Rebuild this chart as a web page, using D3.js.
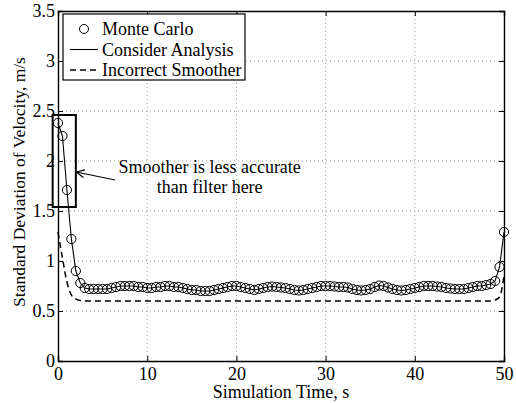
<!DOCTYPE html>
<html>
<head>
<meta charset="utf-8">
<script src="https://cdn.jsdelivr.net/npm/d3@7"></script>
<style>
  body { margin: 0; background: #fff; }
  svg { display: block; font-family: "Liberation Serif", "Times New Roman", serif; }
  .grid line { stroke: #999; stroke-dasharray: 1,3; stroke-width: 1; }
</style>
</head>
<body>
<svg id="chart"></svg>
<script>
'use strict';

// simulation time, s (Monte Carlo samples every 0.5 s)
var mcTime = [0,0.5,1,1.5,2,2.5,3,3.5,4,4.5,5,5.5,6,6.5,7,7.5,8,8.5,9,9.5,
    10,10.5,11,11.5,12,12.5,13,13.5,14,14.5,15,15.5,16,16.5,17,17.5,18,18.5,19,19.5,
    20,20.5,21,21.5,22,22.5,23,23.5,24,24.5,25,25.5,26,26.5,27,27.5,28,28.5,29,29.5,
    30,30.5,31,31.5,32,32.5,33,33.5,34,34.5,35,35.5,36,36.5,37,37.5,38,38.5,39,39.5,
    40,40.5,41,41.5,42,42.5,43,43.5,44,44.5,45,45.5,46,46.5,47,47.5,48,48.5,49,49.5,50];

var monteCarlo = [2.38,2.25,1.71,1.22,0.90,0.78,0.73,0.72,0.72,0.72,0.72,0.72,0.73,0.74,0.75,0.75,0.75,0.75,0.74,0.74,
    0.73,0.73,0.74,0.74,0.75,0.75,0.74,0.74,0.73,0.72,0.71,0.71,0.70,0.70,0.70,0.71,0.72,0.73,0.74,0.75,
    0.75,0.74,0.73,0.72,0.71,0.72,0.73,0.74,0.745,0.74,0.735,0.73,0.72,0.71,0.705,0.71,0.72,0.73,0.74,0.75,
    0.75,0.75,0.745,0.74,0.74,0.735,0.72,0.71,0.705,0.71,0.72,0.74,0.755,0.75,0.735,0.72,0.71,0.705,0.71,0.72,
    0.73,0.74,0.75,0.75,0.75,0.745,0.74,0.73,0.725,0.72,0.72,0.72,0.73,0.74,0.75,0.75,0.76,0.77,0.80,0.94,1.29];

// consider analysis follows the Monte Carlo result
var considerTime = mcTime;
var considerAnalysis = monteCarlo;

var smootherTime = [0,0.5,1,1.5,2,2.5,3,10,20,30,40,47,48,48.5,49,49.5,50];
var incorrectSmoother = [1.29,1.03,0.79,0.66,0.62,0.605,0.60,0.60,0.60,0.60,0.60,0.60,0.60,0.60,0.61,0.64,0.85];

var xTicks = [0,10,20,30,40,50];
var yTicks = [0,0.5,1,1.5,2,2.5,3,3.5];

var legendLabels = ['Monte Carlo','Consider Analysis','Incorrect Smoother'];
var noteLines = ['Smoother is less accurate','than filter here'];

var svgWidth = 516, svgHeight = 403,
    margin = { top: 11, right: 12, bottom: 42, left: 58 },
    width = svgWidth - margin.left - margin.right,
    height = svgHeight - margin.top - margin.bottom;

var svg = d3.select('#chart').attr('width', svgWidth).attr('height', svgHeight);
var g = svg.append('g').attr('transform', 'translate(' + margin.left + ',' + margin.top + ')');

var x = d3.scaleLinear().domain([0, 50]).range([0, width]);
var y = d3.scaleLinear().domain([0, 3.5]).range([height, 0]);

// grid
g.append('g').attr('class', 'grid')
    .selectAll('line').data(xTicks.slice(1, -1)).enter().append('line')
    .attr('x1', function(d) { return x(d); }).attr('x2', function(d) { return x(d); })
    .attr('y1', 0).attr('y2', height);
g.append('g').attr('class', 'grid')
    .selectAll('line').data(yTicks.slice(1, -1)).enter().append('line')
    .attr('y1', function(d) { return y(d); }).attr('y2', function(d) { return y(d); })
    .attr('x1', 0).attr('x2', width);

// axes, ticks inward on all sides
var fmt = function(d) { return d3.format('')(d); };
var xAxis = g.append('g').attr('transform', 'translate(0,' + height + ')')
    .call(d3.axisBottom(x).tickValues(xTicks).tickSize(-5).tickPadding(6).tickFormat(fmt));
var xAxisTop = g.append('g')
    .call(d3.axisTop(x).tickValues(xTicks).tickSize(-5).tickFormat(''));
var yAxis = g.append('g')
    .call(d3.axisLeft(y).tickValues(yTicks).tickSize(-5).tickPadding(3).tickFormat(fmt));
var yAxisRight = g.append('g').attr('transform', 'translate(' + width + ',0)')
    .call(d3.axisRight(y).tickValues(yTicks).tickSize(-5).tickFormat(''));

[xAxis, xAxisTop, yAxis, yAxisRight].forEach(function(a) {
    a.select('.domain').attr('stroke', '#000').attr('stroke-width', 1.4);
    a.selectAll('.tick line').attr('stroke', '#000');
    a.selectAll('text').attr('fill', '#000').style('font-size', '18px')
        .style('font-family', '"Liberation Serif", serif');
});

// axis labels
g.append('text').attr('x', width / 2).attr('y', height + 37)
    .attr('text-anchor', 'middle').style('font-size', '18px').text('Simulation Time, s');
g.append('text').attr('transform', 'translate(' + (-33) + ',' + 171 + ') rotate(-90)')
    .attr('text-anchor', 'middle').style('font-size', '17.5px')
    .text('Standard Deviation of Velocity, m/s');

// incorrect smoother (dashed)
var smootherData = smootherTime.map(function(t, i) { return { t: t, v: incorrectSmoother[i] }; });
g.append('path').attr('d', d3.line()
        .x(function(d) { return x(d.t); })
        .y(function(d) { return y(d.v); })
        .curve(d3.curveMonotoneX)(smootherData))
    .attr('fill', 'none').attr('stroke', '#000').attr('stroke-width', 1.5)
    .attr('stroke-dasharray', '6,4');

// consider analysis (solid)
var considerData = considerTime.map(function(t, i) { return { t: t, v: considerAnalysis[i] }; });
g.append('path').attr('d', d3.line()
        .x(function(d) { return x(d.t); })
        .y(function(d) { return y(d.v); })(considerData))
    .attr('fill', 'none').attr('stroke', '#000').attr('stroke-width', 1.1);

// monte carlo circles
var mcData = mcTime.map(function(t, i) { return { t: t, v: monteCarlo[i] }; });
g.append('g').selectAll('circle').data(mcData).enter().append('circle')
    .attr('cx', function(d) { return x(d.t); })
    .attr('cy', function(d) { return y(d.v); })
    .attr('r', 4.6)
    .attr('fill', 'none').attr('stroke', '#000').attr('stroke-width', 1);

// annotation box and arrow
g.append('rect')
    .attr('x', x(-0.6)).attr('y', y(2.46))
    .attr('width', x(2.0) - x(-0.6)).attr('height', y(1.54) - y(2.46))
    .attr('fill', 'none').attr('stroke', '#000').attr('stroke-width', 2);

var tail = [x(6.4), y(1.81)], head = [x(2.05), y(1.89)];
g.append('line').attr('x1', tail[0]).attr('y1', tail[1]).attr('x2', head[0]).attr('y2', head[1])
    .attr('stroke', '#000').attr('stroke-width', 1.2);
var ang = Math.atan2(head[1] - tail[1], head[0] - tail[0]);
[0.45, -0.45].forEach(function(da) {
    g.append('line').attr('x1', head[0]).attr('y1', head[1])
        .attr('x2', head[0] - 9 * Math.cos(ang + da))
        .attr('y2', head[1] - 9 * Math.sin(ang + da))
        .attr('stroke', '#000').attr('stroke-width', 1.2);
});

g.selectAll('.note').data(noteLines).enter().append('text')
    .attr('class', 'note')
    .attr('x', x(17.0))
    .attr('y', function(d, i) { return y(1.88) + i * 20; })
    .attr('text-anchor', 'middle').style('font-size', '18px')
    .text(function(d) { return d; });

// legend
var legend = svg.append('g').attr('transform', 'translate(63,14)');
legend.append('rect').attr('width', 182).attr('height', 66)
    .attr('fill', '#fff').attr('stroke', '#000').attr('stroke-width', 1.2);
var rows = legend.selectAll('.row').data(legendLabels).enter().append('g')
    .attr('transform', function(d, i) { return 'translate(0,' + (15 + i * 20.5) + ')'; });
rows.append('text').attr('x', 39).attr('y', 6).style('font-size', '18px')
    .text(function(d) { return d; });
legend.append('circle').attr('cx', 21).attr('cy', 15).attr('r', 4.5)
    .attr('fill', 'none').attr('stroke', '#000');
legend.append('line').attr('x1', 7).attr('x2', 35).attr('y1', 35.5).attr('y2', 35.5)
    .attr('stroke', '#000').attr('stroke-width', 1.1);
legend.append('line').attr('x1', 7).attr('x2', 35).attr('y1', 56).attr('y2', 56)
    .attr('stroke', '#000').attr('stroke-width', 1.5).attr('stroke-dasharray', '6,4');
</script>
</body>
</html>
